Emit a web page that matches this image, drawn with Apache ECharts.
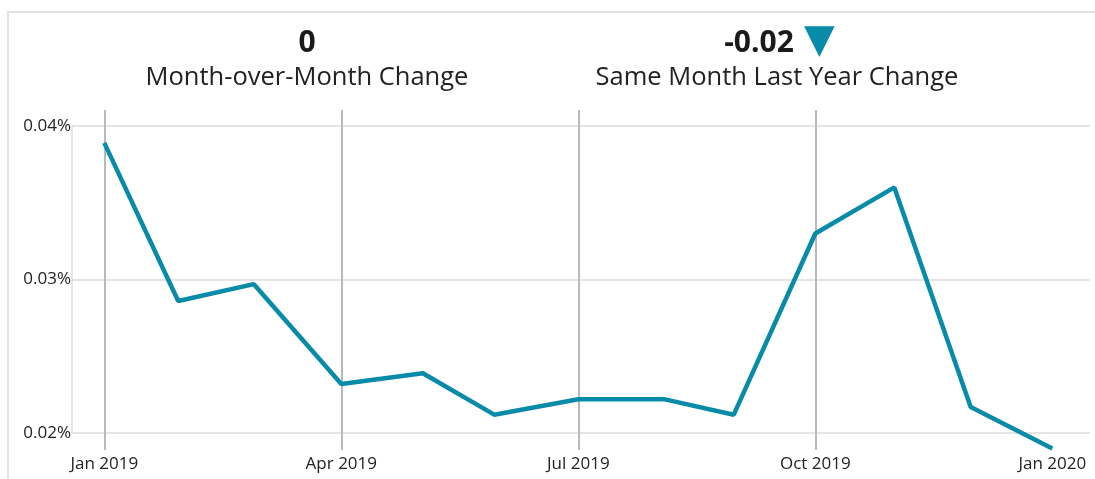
<!DOCTYPE html>
<html>
<head>
<meta charset="utf-8">
<script src="https://cdn.jsdelivr.net/npm/echarts@6/dist/echarts.min.js"></script>
<style>
  html, body { margin: 0; padding: 0; background: #fff; }
  #frame { position: absolute; left: 7px; top: 11px; width: 1100px; height: 480px;
           border-top: 2px solid #e3e3e3; border-left: 2px solid #e3e3e3; }
  #main { position: absolute; left: 0; top: 0; width: 1095px; height: 479px; }
</style>
</head>
<body>
<div id="frame"></div>
<div id="main"></div>
<script>
// data
const dates = ['2019-01-01', '2019-01-30', '2019-02-26', '2019-04-01', '2019-05-02', '2019-05-30',
  '2019-07-01', '2019-08-04', '2019-08-31', '2019-10-01', '2019-11-01', '2019-11-30', '2020-01-01'];
const values = [0.0389, 0.0286, 0.0297, 0.0232, 0.0239, 0.0212,
  0.0222, 0.0222, 0.0212, 0.0330, 0.0360, 0.0217, 0.0190];
const xTicks = ['2019-01-01', '2019-04-01', '2019-07-01', '2019-10-01', '2020-01-01'];
const xGridLines = ['2019-01-01', '2019-04-01', '2019-07-01', '2019-10-01'];
const yTicks = [0.02, 0.03, 0.04];
const kpiValues = ['0', '-0.02'];
const kpiLabels = ['Month-over-Month Change', 'Same Month Last Year Change'];

const font = '"Open Sans", "Noto Sans", sans-serif';
const teal = '#088ba8';
const months = ['Jan','Feb','Mar','Apr','May','Jun','Jul','Aug','Sep','Oct','Nov','Dec'];
// months are spaced evenly on the axis, so map a date to a fractional month index
const toIdx = s => {
  const [y, m, d] = s.split('-').map(Number);
  const dim = new Date(Date.UTC(y, m, 0)).getUTCDate();
  return (y - 2019) * 12 + (m - 1) + (d - 1) / dim;
};
const xMin = -0.409;
const xMax = 12.477;

const valueStyle = { fontFamily: font, fontSize: 30, fontWeight: 'bold', color: '#1a1a1a', lineHeight: 34 };
const labelStyle = { fontFamily: font, fontSize: 25.5, fontWeight: 'normal', color: '#222' };

let myChart = echarts.init(document.getElementById('main'));

const option = {
  animation: false,
  textStyle: { fontFamily: font },
  title: [
    { text: kpiValues[0], left: 302, top: 21, textAlign: 'center', textStyle: valueStyle },
    { text: kpiLabels[0], left: 302, top: 60, textAlign: 'center', textStyle: labelStyle },
    { text: kpiValues[1], left: 754, top: 21, textAlign: 'center', textStyle: valueStyle },
    { text: '▼', left: 799, top: 20, textStyle: { fontFamily: 'DejaVu Sans', fontSize: 40, color: teal, lineHeight: 34 } },
    { text: kpiLabels[1], left: 772, top: 60, textAlign: 'center', textStyle: labelStyle }
  ],
  grid: { left: 72, right: 5, top: 110, bottom: 29 },
  xAxis: {
    type: 'value',
    min: xMin, max: xMax,
    axisLine: { show: false },
    axisTick: { show: false },
    splitLine: { show: false },
    axisLabel: {
      customValues: xTicks.map(toIdx),
      margin: 6,
      fontFamily: font, fontSize: 17, color: '#222',
      formatter: v => months[Math.round(v) % 12] + ' ' + (2019 + Math.floor(Math.round(v) / 12))
    }
  },
  yAxis: {
    type: 'value',
    min: 0.0189, max: 0.04104,
    axisLine: { show: false },
    axisTick: { show: false },
    splitLine: { show: false },
    axisLabel: {
      customValues: yTicks,
      margin: 1,
      fontFamily: font, fontSize: 17, color: '#222',
      formatter: v => v.toFixed(2) + '%'
    }
  },
  series: [
    {
      type: 'line',
      data: [],
      z: 1,
      markLine: {
        silent: true, symbol: 'none', label: { show: false },
        data: [
          ...yTicks.map(v => ({ yAxis: v, lineStyle: { color: '#dcdcdc', width: 1.5, type: 'solid' } })),
          ...xGridLines.map(d => ({ xAxis: toIdx(d), lineStyle: { color: '#b9b9bd', width: 2, type: 'solid' } })),
          [
            { coord: [xMin, yTicks[0]], lineStyle: { color: '#dcdcdc', width: 1.5, type: 'solid' } },
            { coord: [xMin, yTicks[yTicks.length - 1]] }
          ]
        ]
      }
    },
    {
      type: 'line',
      z: 5,
      data: dates.map((d, i) => [toIdx(d), values[i]]),
      showSymbol: false,
      lineStyle: { color: teal, width: 4.5 },
      itemStyle: { color: teal }
    }
  ]
};

option && myChart.setOption(option);
</script>
</body>
</html>
